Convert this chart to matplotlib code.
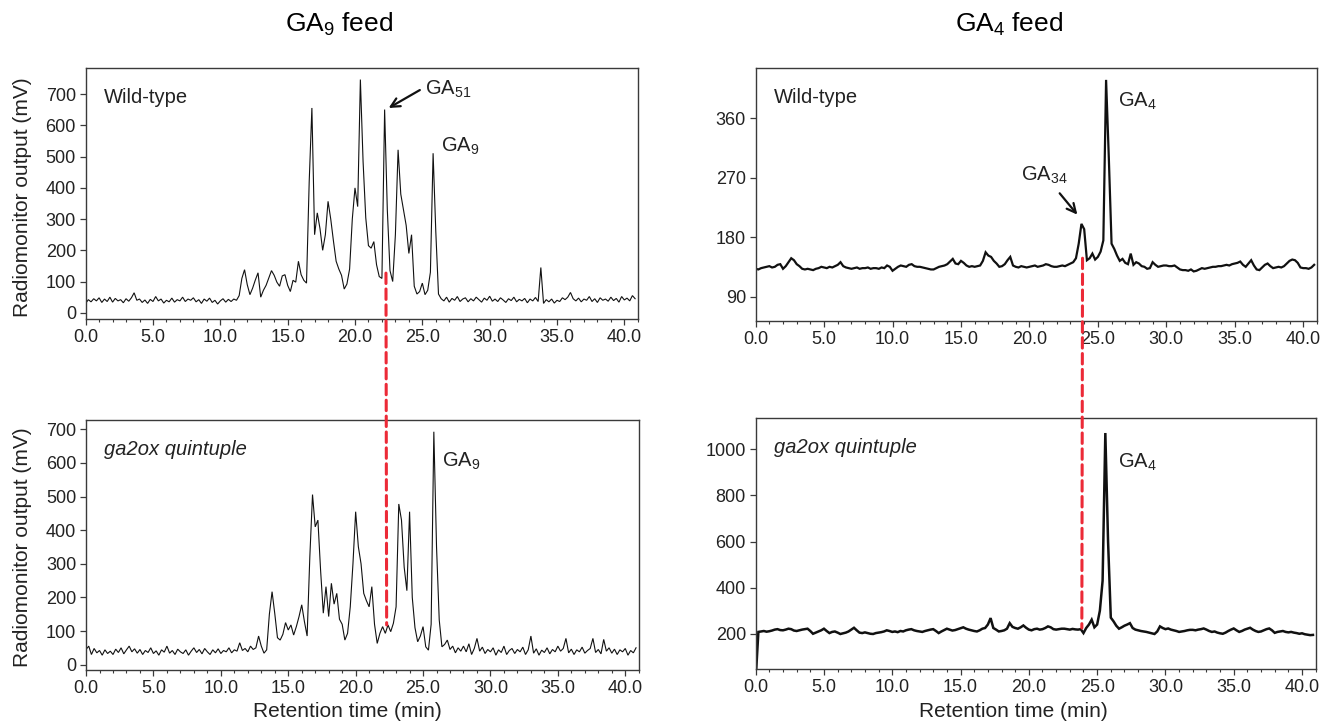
"""Radio-HPLC traces: GA9 / GA4 feeds, wild-type vs ga2ox quintuple."""
import matplotlib

matplotlib.use("Agg")
import matplotlib.pyplot as plt
import numpy as np
from matplotlib.patches import ConnectionPatch
from matplotlib.ticker import FormatStrFormatter, MultipleLocator

plt.rcParams["font.family"] = ["Liberation Sans", "DejaVu Sans"]
plt.rcParams["mathtext.fontset"] = "custom"
plt.rcParams["mathtext.rm"] = "Liberation Sans"
plt.rcParams["mathtext.it"] = "Liberation Sans:italic"
plt.rcParams["mathtext.default"] = "regular"

# retention time grid (min), one reading every 0.2 min
STEP = 0.2
N_PTS = 205

# radiomonitor output (mV)
wt_ga9 = [
    30, 42, 35, 45, 38, 48, 33, 44, 36, 50,
    34, 46, 38, 42, 32, 45, 37, 48, 64, 40,
    44, 33, 41, 30, 43, 36, 52, 38, 44, 31,
    40, 35, 47, 34, 42, 38, 50, 36, 44, 40,
    48, 35, 42, 30, 44, 37, 47, 33, 40, 28,
    38, 45, 34, 43, 36, 44, 40, 55, 110, 138,
    90, 58, 79, 105, 128, 50, 72, 88, 111, 135,
    120, 98, 85, 118, 122, 88, 68, 104, 98, 165,
    122, 104, 95, 420, 656, 250, 320, 270, 200, 250,
    357, 300, 230, 165, 140, 120, 76, 92, 140, 300,
    400, 340, 747, 485, 304, 215, 207, 228, 154, 116,
    110, 651, 330, 135, 100, 250, 522, 380, 330, 280,
    190, 250, 85, 60, 68, 95, 58, 72, 130, 511,
    260, 60, 45, 38, 50, 34, 46, 40, 52, 36,
    44, 48, 35, 45, 38, 50, 42, 34, 47, 40,
    53, 37, 44, 36, 48, 41, 33, 45, 39, 50,
    35, 43, 38, 46, 32, 44, 38, 49, 36, 145,
    30, 42, 35, 44, 31, 40, 36, 48, 42, 50,
    65, 45, 38, 47, 35, 44, 40, 52, 36, 45,
    33, 48, 40, 44, 37, 50, 39, 46, 34, 52,
    41, 47, 38, 55, 45,
]
qui_ga9 = [
    45, 55, 30, 48, 35, 42, 28, 44, 33, 40,
    30, 46, 36, 50, 32, 44, 55, 38, 47, 34,
    45, 30, 42, 36, 50, 33, 41, 28, 44, 37,
    55, 34, 42, 30, 46, 38, 33, 44, 28, 40,
    50, 36, 45, 32, 48, 38, 30, 44, 35, 47,
    33, 42, 38, 50, 35, 44, 40, 65, 42, 48,
    38, 55, 45, 50, 85, 55, 34, 44, 150, 217,
    152, 80, 73, 90, 125, 103, 118, 88, 113, 143,
    178, 128, 85, 320, 506, 410, 430, 280, 153, 232,
    143, 242, 180, 212, 135, 120, 73, 93, 172, 300,
    455, 351, 300, 212, 190, 172, 232, 120, 63, 93,
    113, 93, 118, 98, 123, 172, 478, 430, 290, 220,
    455, 200, 110, 68, 85, 113, 53, 43, 120, 693,
    350, 133, 53, 60, 73, 45, 55, 35, 50, 40,
    55, 38, 62, 30, 48, 78, 40, 52, 33, 45,
    38, 50, 28, 44, 36, 55, 30, 42, 48, 33,
    45, 38, 52, 30, 44, 85, 34, 47, 28, 43,
    36, 50, 32, 45, 38, 55, 40, 48, 78, 35,
    46, 30, 44, 38, 52, 34, 42, 48, 78, 36,
    45, 32, 75, 40, 50, 34, 46, 30, 44, 38,
    48, 28, 42, 35, 50,
]
wt_ga4 = [
    132, 131, 133, 134, 135, 136, 134, 135, 138, 139,
    132, 136, 142, 148, 145, 139, 136, 132, 131, 132,
    131, 130, 132, 133, 135, 134, 133, 135, 134, 136,
    138, 142, 136, 134, 133, 132, 133, 134, 132, 133,
    133, 134, 132, 133, 133, 132, 134, 133, 137, 135,
    129, 132, 135, 137, 136, 135, 138, 139, 136, 135,
    135, 134, 133, 132, 131, 131, 133, 135, 136, 137,
    139, 143, 147, 140, 139, 144, 141, 137, 135, 136,
    135, 136, 137, 144, 157, 152, 150, 144, 140, 135,
    136, 139, 145, 150, 137, 135, 134, 136, 135, 134,
    135, 136, 137, 135, 136, 137, 139, 138, 136, 135,
    135, 136, 137, 136, 138, 140, 142, 148, 170, 200,
    192, 145, 148, 155, 146, 150, 158, 175, 418, 300,
    170, 162, 152, 144, 147, 141, 139, 155, 138, 142,
    140, 136, 135, 132, 133, 142, 138, 135, 136, 137,
    137, 136, 136, 137, 134, 131, 130, 130, 129, 131,
    128, 129, 131, 133, 132, 133, 134, 135, 135, 136,
    136, 137, 138, 137, 139, 140, 141, 143, 138, 135,
    140, 145, 137, 131, 130, 134, 138, 140, 136, 133,
    134, 135, 134, 136, 140, 144, 146, 145, 141, 134,
    133, 133, 132, 134, 138,
]
qui_ga4 = [
    0, 208, 210, 212, 209, 211, 214, 218, 220, 216,
    215, 218, 222, 220, 214, 212, 215, 218, 220, 222,
    212, 200, 205, 210, 215, 222, 212, 203, 208, 210,
    205, 199, 202, 205, 210, 218, 226, 215, 205, 203,
    206, 203, 200, 199, 203, 205, 207, 210, 215, 212,
    208, 210, 207, 212, 210, 215, 218, 220, 215, 212,
    210, 208, 212, 215, 218, 220, 212, 203, 210, 216,
    222, 218, 214, 216, 220, 224, 228, 222, 218, 215,
    212, 210, 215, 222, 225, 240, 268, 225, 218, 210,
    212, 215, 222, 246, 230, 225, 222, 228, 236, 226,
    218, 215, 220, 222, 218, 220, 225, 232, 228, 220,
    218, 220, 222, 222, 220, 218, 221, 219, 218, 220,
    203, 225, 240, 261, 228, 240, 300, 430, 1071, 600,
    270, 254, 235, 222, 228, 235, 240, 246, 225, 218,
    215, 212, 210, 208, 205, 202, 199, 210, 232, 225,
    220, 223, 218, 215, 212, 208, 210, 212, 215, 217,
    217, 215, 218, 220, 223, 218, 212, 208, 210, 205,
    202, 200, 205, 212, 218, 223, 215, 208, 212, 218,
    222, 226, 218, 212, 208, 210, 215, 220, 223, 215,
    204, 208, 210, 212, 208, 206, 208, 205, 203, 200,
    202, 198, 196, 194, 195,
]

# retention times marked by the red dashed lines (min)
GA51_RT = 22.3
GA34_RT = 23.88

rt = np.arange(N_PTS) * STEP

INK = "#111111"
FRAME = "#3a3a3a"
RED = "#ec2a37"

fig = plt.figure(figsize=(13.36, 7.28), dpi=100, facecolor="white")


def panel(rect, y, ylim, ystep, lw, label, italic):
    ax = fig.add_axes(rect)
    ax.plot(rt, y, color=INK, lw=lw, solid_joinstyle="miter")
    ax.set_xlim(0, 41)
    ax.set_ylim(*ylim)
    ax.xaxis.set_major_locator(MultipleLocator(5))
    ax.xaxis.set_minor_locator(MultipleLocator(1))
    ax.xaxis.set_major_formatter(FormatStrFormatter("%.1f"))
    ax.yaxis.set_major_locator(MultipleLocator(ystep))
    ax.tick_params(axis="both", which="major", direction="out", length=4,
                   width=0.9, color=FRAME, labelsize=13, labelcolor="#222222", pad=3)
    ax.tick_params(axis="x", which="minor", direction="out", length=2.5,
                   width=0.8, color=FRAME)
    for s in ax.spines.values():
        s.set_color(FRAME)
        s.set_linewidth(1.0)
    ax.text(0.033, 0.86, label, transform=ax.transAxes, fontsize=14.5,
            ha="left", va="baseline", color="#222222",
            style="italic" if italic else "normal")
    return ax


ax_tl = panel([0.0641, 0.5618, 0.4133, 0.3452], wt_ga9, (-20, 785), 100, 0.8,
              "Wild-type", False)
ax_tr = panel([0.5656, 0.5591, 0.4201, 0.3475], wt_ga4, (53, 436), 90, 1.6,
              "Wild-type", False)
ax_bl = panel([0.0644, 0.0797, 0.4137, 0.3434], qui_ga9, (-16, 728), 100, 0.8,
              "ga2ox quintuple", True)
ax_br = panel([0.5656, 0.0810, 0.4192, 0.3448], qui_ga4, (47, 1136), 200, 1.8,
              "ga2ox quintuple", True)

# peak labels
pk = dict(fontsize=14.5, ha="left", va="baseline", color="#222222")
ax_tl.text(26.4, 517, "GA$_{9}$", **pk)
ax_bl.text(26.4, 589, "GA$_{9}$", **pk)
ax_tr.text(26.5, 377, "GA$_{4}$", **pk)
ax_br.text(26.5, 919, "GA$_{4}$", **pk)
ax_tl.annotate("GA$_{51}$", xy=(22.5, 656), xytext=(25.2, 699), **pk,
               arrowprops=dict(arrowstyle="->", color=INK, lw=1.6,
                               mutation_scale=16, shrinkA=2, shrinkB=0,
                               relpos=(0, 0.6)))
ax_tr.annotate("GA$_{34}$", xy=(23.5, 214), xytext=(19.4, 265), **pk,
               arrowprops=dict(arrowstyle="->", color=INK, lw=1.6,
                               mutation_scale=16, shrinkA=4, shrinkB=0,
                               relpos=(0.7, 0)))

# red dashed guides linking the two genotypes
for top, bot, x, y0, y1 in [(ax_tl, ax_bl, GA51_RT, 127, 118),
                            (ax_tr, ax_br, GA34_RT, 148, 225)]:
    con = ConnectionPatch(xyA=(x, y0), coordsA=top.transData,
                          xyB=(x, y1), coordsB=bot.transData,
                          color=RED, lw=2.2, linestyle=(0, (3.4, 1.8)), zorder=5)
    fig.add_artist(con)

# titles and axis labels
fig.text(0.2541, 0.9565, "GA$_{9}$ feed", fontsize=19, ha="center", va="baseline")
fig.text(0.7553, 0.9565, "GA$_{4}$ feed", fontsize=19, ha="center", va="baseline")
for yc in (0.7287, 0.249):
    fig.text(0.0165, yc, "Radiomonitor output (mV)", fontsize=15,
             rotation=90, ha="center", va="center", color="#222222")
for xc in (0.2603, 0.7582):
    fig.text(xc, 0.022, "Retention time (min)", fontsize=15,
             ha="center", va="center", color="#222222")

fig.savefig("out.png", dpi=100, facecolor="white")
